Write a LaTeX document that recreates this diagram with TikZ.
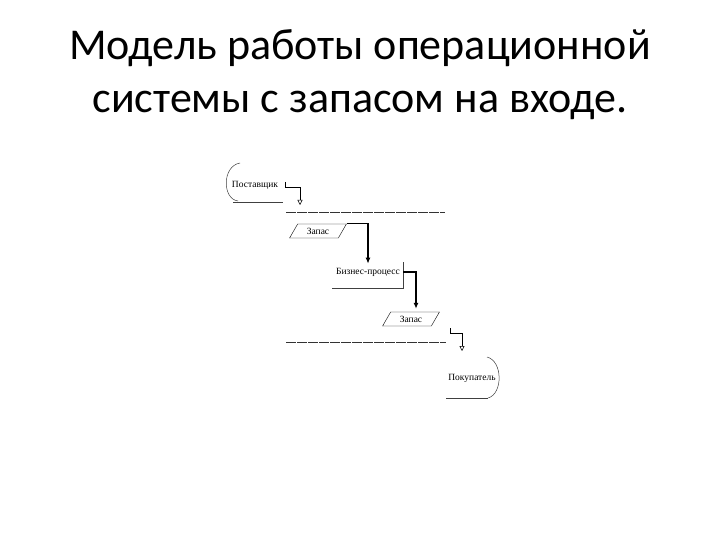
\documentclass[tikz,border=0pt]{standalone}
\usepackage{fontspec}
\setmainfont{Carlito}
\newfontfamily\diagfont{Liberation Serif}
\usetikzlibrary{arrows.meta,positioning,calc,shapes.geometric}
\tikzset{title/.style={align=center,font=\fontsize{44}{53}\selectfont,inner sep=0pt},lbl/.style={font=\diagfont\fontsize{9.5}{10}\selectfont,inner sep=1pt},stockbox/.style={trapezium,draw,trapezium left angle=60,trapezium right angle=120,minimum width=44pt,minimum height=14pt,inner sep=1pt,font=\diagfont\fontsize{9.5}{10}\selectfont},flow/.style={-{Triangle[open,length=5pt,width=5pt]},line width=0.5pt},bigflow/.style={-{Latex[length=6pt,width=5pt]},line width=1.2pt,shorten >=3pt},edge/.style={line width=0.5pt,black!75},bound/.style={dash pattern=on 10pt off 1pt,line width=0.6pt,black!80}}
\begin{document}
\begin{tikzpicture}[x=1pt,y=-1pt]
\fill[white](0,0)rectangle(720,540);
\useasboundingbox(0,0)rectangle(720,540);
\node[title] (head) at (360,75) {Модель работы операционной\\системы с запасом на входе.};
\node[lbl] (sup) at (255,185) {Поставщик};
\node[stockbox] (zap1) at (318,231) {Запас};
\node[lbl] (proc) at (368,272) {Бизнес-процесс};
\node[stockbox] (zap2) at (411,319) {Запас};
\node[lbl] (buy) at (472,378) {Покупатель};
% open ends of supplier and buyer
\draw[edge](240,163)..controls(222,166)and(222,199)..(238,201);
\draw[edge](233,202)--(283,202);
\draw[edge](403,262)--(403,288)--(332,288);
\draw[edge](487,357)..controls(503,361)and(503,394)..(488,398);
\draw[edge](446,398)--(488,398);
% stock boundaries
\draw[bound](286,212)--(445,212);
\draw[bound](286,342)--(446,342);
\coordinate (sup-tap) at (285,182);
\coordinate (in-top) at (300,205);
\coordinate (out-tap) at (450,328);
\coordinate (buy-in) at (462,351);
\draw[flow](sup-tap)--++(0,5)-|(in-top);
\draw[bigflow](zap1.top right corner)-|(proc.north);
\draw[bigflow]([xshift=2pt]proc.east)-|([xshift=5pt]zap2.north);
\draw[flow](out-tap)--++(0,5)-|(buy-in);
\end{tikzpicture}
\end{document}
